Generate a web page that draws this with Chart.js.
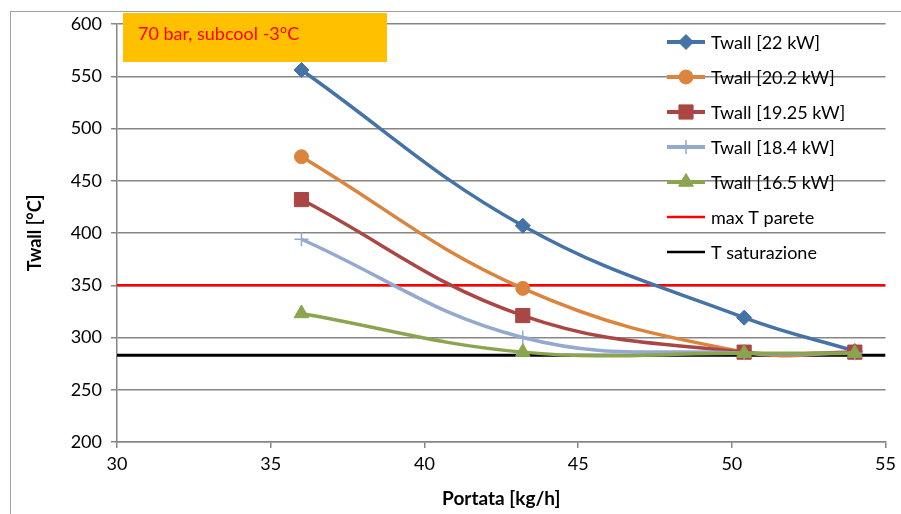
<!DOCTYPE html>
<html>
<head>
<meta charset="utf-8">
<script src="https://cdn.jsdelivr.net/npm/chart.js@4.4.1/dist/chart.umd.min.js"></script>
<style>
  body { margin: 0; background: #fff; }
  #wrap { position: relative; width: 901px; height: 514px; }
</style>
</head>
<body>
<div id="wrap"><canvas id="twallChart" width="901" height="514"></canvas></div>
<script>
// portata [kg/h] and wall temperatures [°C]
const portata = [36, 43.2, 50.4, 54];
const tw22 = [556, 407, 319, 287];
const tw202 = [473, 347, 286, 286];
const tw1925 = [432, 321, 286, 286];
const tw184 = [394, 300, 285, 285];
const tw165 = [323, 286, 285, 285];
const xLimits = [30, 55];
const maxTParete = [350, 350];
const tSaturazione = [283, 283];

const FONT = "Lato, 'Open Sans', sans-serif";

function pts(ys, xs) {
  return xs.map((x, i) => ({ x: x, y: ys[i] }));
}

function curve(label, ys, color, style, radius, order) {
  return {
    label: label,
    data: pts(ys, portata),
    borderColor: color,
    backgroundColor: color,
    borderWidth: 3.5,
    tension: 0.4,
    pointStyle: style,
    pointRadius: radius,
    pointBorderWidth: style === "cross" ? 1.5 : 1,
    order: order
  };
}

const datasets = [
  curve("Twall [22 kW]", tw22, "#4572A7", "rectRot", 7.5, 6),
  curve("Twall [20.2 kW]", tw202, "#DB843D", "circle", 7, 5),
  curve("Twall [19.25 kW]", tw1925, "#AA4643", "rect", 10, 4),
  curve("Twall [18.4 kW]", tw184, "#93A9CF", "cross", 7, 3),
  curve("Twall [16.5 kW]", tw165, "#89A54E", "triangle", 8.5, 2),
  {
    label: "max T parete",
    data: pts(maxTParete, xLimits),
    borderColor: "#FF0000",
    borderWidth: 2.5,
    pointRadius: 0,
    order: 8
  },
  {
    label: "T saturazione",
    data: pts(tSaturazione, xLimits),
    borderColor: "#000000",
    borderWidth: 3,
    pointRadius: 0,
    order: 7
  }
];

// outer frame, note box and legend drawn on the canvas
const extras = {
  id: "extras",
  beforeDraw(chart) {
    const c = chart.ctx;
    c.save();
    c.strokeStyle = "#A0A0A0";
    c.lineWidth = 1;
    c.strokeRect(10.5, 11.5, 1000, 1000);
    c.restore();
  },
  afterDraw(chart) {
    const c = chart.ctx;
    const area = chart.chartArea;
    c.save();
    // note box
    c.fillStyle = "#FFC000";
    c.fillRect(area.left + 6, 13, 264, 49);
    c.fillStyle = "#FF0000";
    c.font = "18px " + FONT;
    c.textBaseline = "middle";
    c.fillText("70 bar, subcool -3°C", area.left + 21, 34);

    // legend
    let y = 42;
    chart.data.datasets.forEach((ds) => {
      const x0 = 667, x1 = 705;
      c.strokeStyle = ds.borderColor;
      c.lineWidth = ds.pointRadius ? 4 : 2.5;
      c.beginPath();
      c.moveTo(x0, y);
      c.lineTo(x1, y);
      c.stroke();
      if (ds.pointRadius) {
        c.fillStyle = ds.backgroundColor;
        c.strokeStyle = ds.borderColor;
        c.lineWidth = ds.pointBorderWidth;
        Chart.helpers.drawPoint(c, {
          pointStyle: ds.pointStyle,
          radius: ds.pointRadius,
          rotation: 0,
          borderWidth: ds.pointBorderWidth
        }, (x0 + x1) / 2, y);
      }
      c.fillStyle = "#000";
      c.font = "18px " + FONT;
      c.textBaseline = "middle";
      c.fillText(ds.label, 711, y + 1);
      y += 35;
    });
    c.restore();
  }
};

new Chart(document.getElementById("twallChart"), {
  type: "line",
  data: { datasets: datasets },
  plugins: [extras],
  options: {
    responsive: false,
    animation: false,
    layout: { padding: { top: 24, right: 15, left: 0, bottom: 0 } },
    plugins: {
      legend: { display: false },
      tooltip: { enabled: false }
    },
    scales: {
      x: {
        type: "linear",
        min: 30,
        max: 55,
        ticks: { stepSize: 5, color: "#000", font: { family: FONT, size: 18 }, padding: 5 },
        grid: { drawOnChartArea: false, drawTicks: true, tickLength: 6, color: "#868686", lineWidth: 1.5 },
        border: { color: "#868686", width: 1.5 },
        title: {
          display: true,
          text: "Portata [kg/h]",
          color: "#000",
          font: { family: FONT, size: 19, weight: "bold" },
          padding: { top: 2 }
        },
        afterFit(scale) { scale.height = 72; }
      },
      y: {
        min: 200,
        max: 600,
        ticks: { stepSize: 50, color: "#000", font: { family: FONT, size: 18 }, padding: 9 },
        grid: { color: "#868686", lineWidth: 1.5, tickLength: 6 },
        border: { color: "#868686", width: 1.5 },
        title: {
          display: true,
          text: "Twall [°C]",
          color: "#000",
          font: { family: FONT, size: 18, weight: "bold" },
          padding: { top: 24 }
        },
        afterFit(scale) { scale.width = 117; }
      }
    }
  }
});
</script>
</body>
</html>
